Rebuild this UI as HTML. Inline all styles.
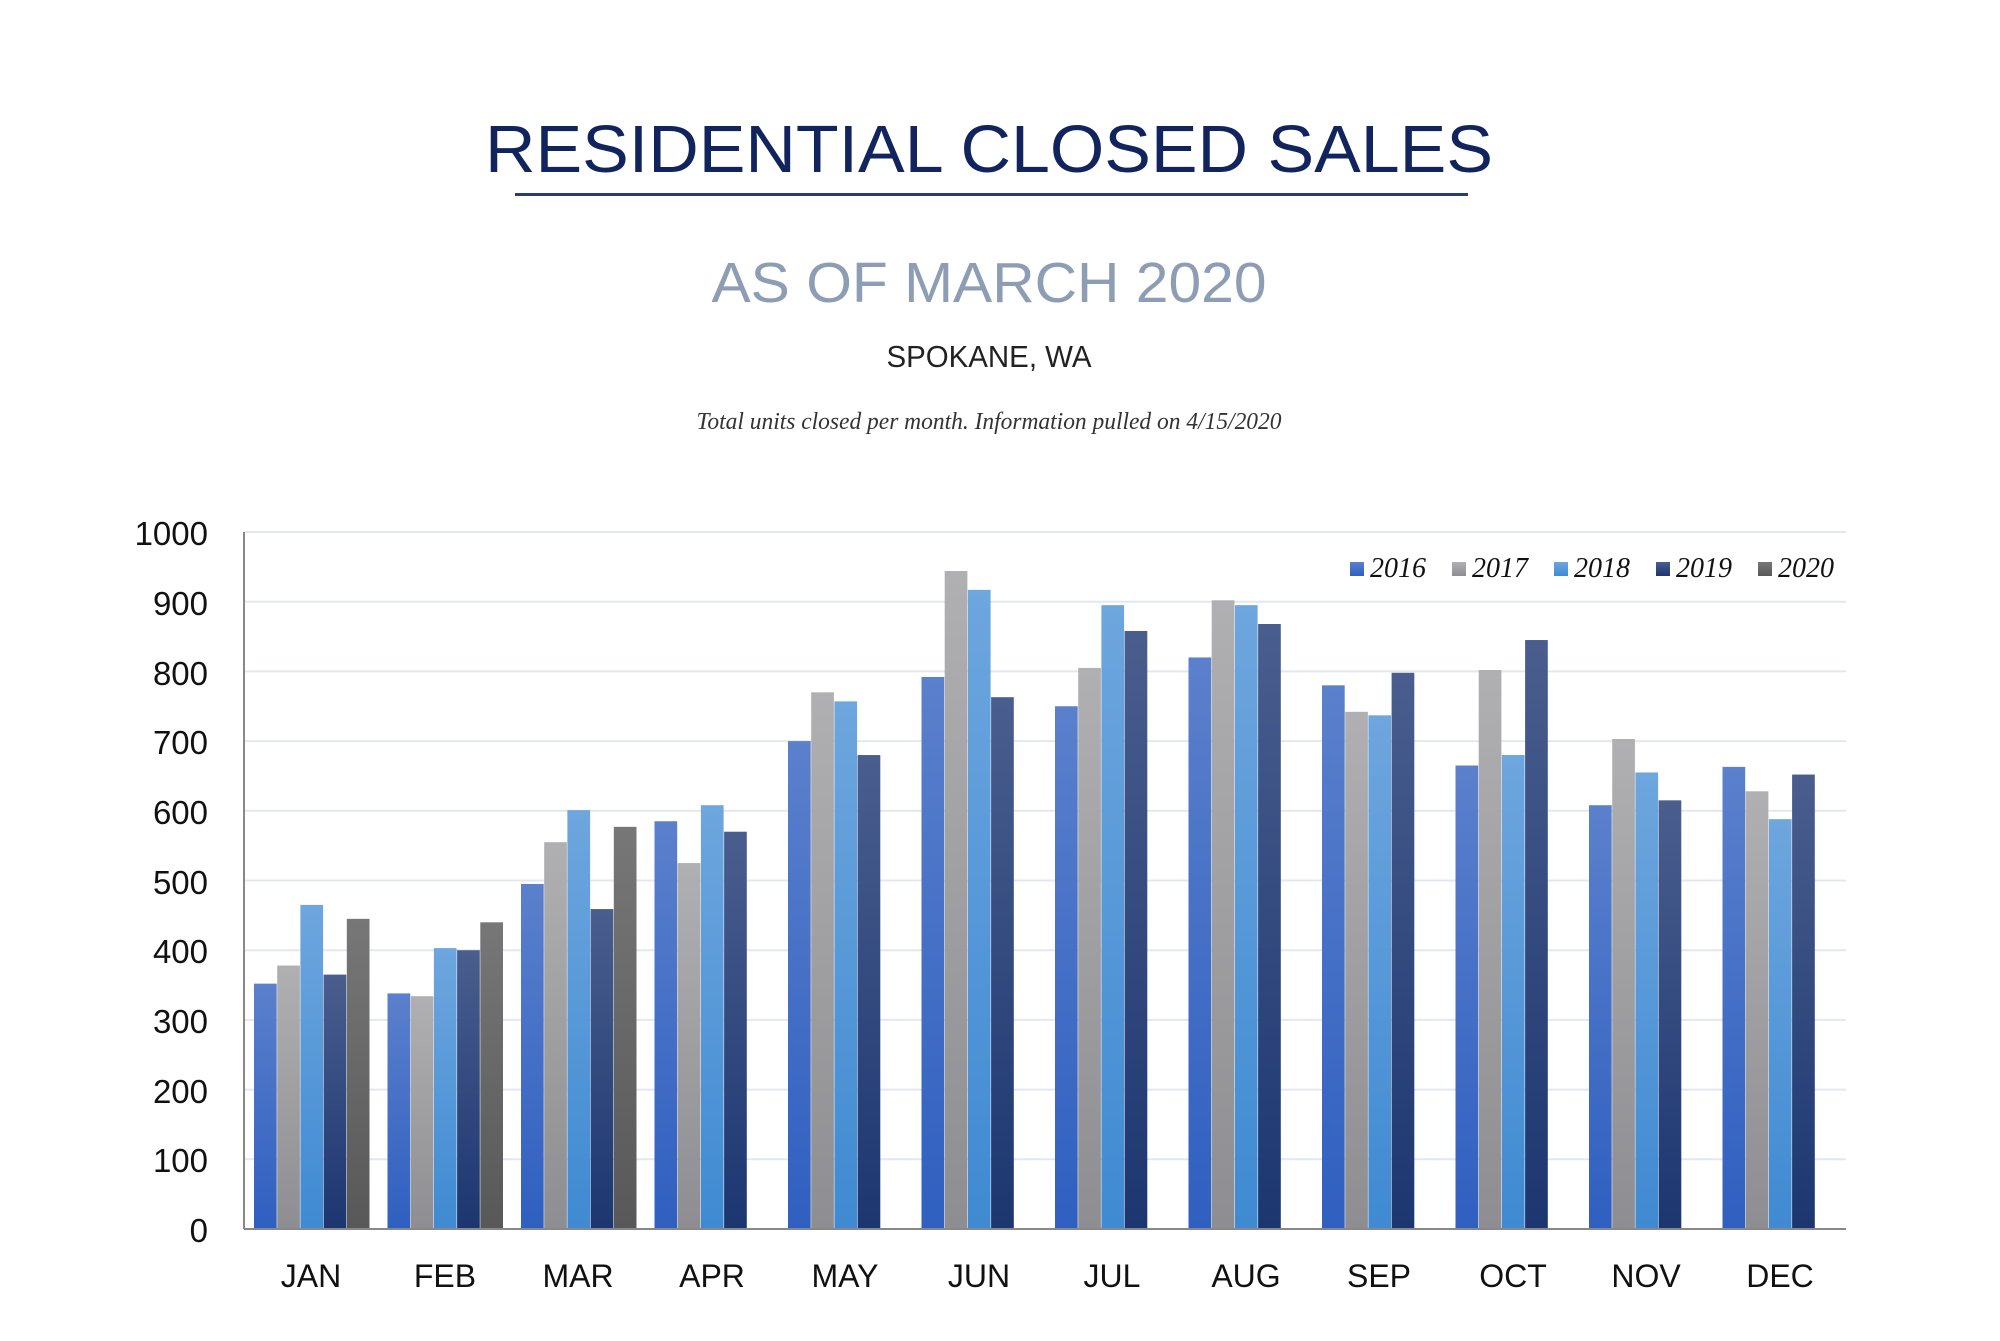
<!DOCTYPE html>
<html><head><meta charset="utf-8"><style>
html,body{margin:0;padding:0;background:#fff;}
svg{display:block;}
</style></head><body>
<svg id="s" width="2000" height="1341" viewBox="0 0 2000 1341" xmlns="http://www.w3.org/2000/svg">
<defs>
<linearGradient id="g0" x1="0" y1="0" x2="0" y2="1"><stop offset="0" stop-color="#5b80cc"/><stop offset="1" stop-color="#2f5fc0"/></linearGradient>
<linearGradient id="g1" x1="0" y1="0" x2="0" y2="1"><stop offset="0" stop-color="#b0b0b2"/><stop offset="1" stop-color="#8e8e92"/></linearGradient>
<linearGradient id="g2" x1="0" y1="0" x2="0" y2="1"><stop offset="0" stop-color="#6ea6de"/><stop offset="1" stop-color="#3f8ad2"/></linearGradient>
<linearGradient id="g3" x1="0" y1="0" x2="0" y2="1"><stop offset="0" stop-color="#4a5e8e"/><stop offset="1" stop-color="#1c3670"/></linearGradient>
<linearGradient id="g4" x1="0" y1="0" x2="0" y2="1"><stop offset="0" stop-color="#777"/><stop offset="1" stop-color="#585858"/></linearGradient>
</defs>
<rect width="2000" height="1341" fill="#fff"/>
<text x="989" y="172" text-anchor="middle" font-family="Liberation Sans, sans-serif" font-size="67" fill="#12245e" textLength="1008" lengthAdjust="spacingAndGlyphs">RESIDENTIAL CLOSED SALES</text>
<rect x="515" y="193" width="953" height="3" fill="#2a3d70"/>
<text x="989" y="302" text-anchor="middle" font-family="Liberation Sans, sans-serif" font-size="57" fill="#8d9db4" textLength="555" lengthAdjust="spacingAndGlyphs">AS OF MARCH 2020</text>
<text x="989" y="367" text-anchor="middle" font-family="Liberation Sans, sans-serif" font-size="31" fill="#222" textLength="205" lengthAdjust="spacingAndGlyphs">SPOKANE, WA</text>
<text x="989" y="429" text-anchor="middle" font-family="Liberation Serif, serif" font-style="italic" font-size="24" fill="#333" textLength="585" lengthAdjust="spacingAndGlyphs">Total units closed per month.  Information pulled on 4/15/2020</text>
<g id="grid" stroke="#e3e8f0" stroke-width="2"></g>
<g id="bars"></g>
<line x1="244" y1="532" x2="244" y2="1229" stroke="#888" stroke-width="2"/>
<line x1="244" y1="1229" x2="1846" y2="1229" stroke="#888" stroke-width="2"/>
<g font-family="Liberation Sans, sans-serif" font-size="33" fill="#111" text-anchor="end">
<text x="208" y="545">1000</text><text x="208" y="615">900</text><text x="208" y="685">800</text><text x="208" y="754">700</text><text x="208" y="824">600</text><text x="208" y="894">500</text><text x="208" y="963">400</text><text x="208" y="1033">300</text><text x="208" y="1103">200</text><text x="208" y="1172">100</text><text x="208" y="1242">0</text>
</g>
<g id="months" font-family="Liberation Sans, sans-serif" font-size="32" fill="#111" text-anchor="middle">
<text x="311" y="1287">JAN</text><text x="445" y="1287">FEB</text><text x="578" y="1287">MAR</text><text x="712" y="1287">APR</text><text x="845" y="1287">MAY</text><text x="979" y="1287">JUN</text><text x="1112" y="1287">JUL</text><text x="1246" y="1287">AUG</text><text x="1379" y="1287">SEP</text><text x="1513" y="1287">OCT</text><text x="1646" y="1287">NOV</text><text x="1780" y="1287">DEC</text>
</g>
<g font-family="Liberation Serif, serif" font-style="italic" font-size="28" fill="#111">
<rect x="1350" y="562" width="14" height="14" fill="url(#g0)"/><text x="1370" y="577">2016</text>
<rect x="1452" y="562" width="14" height="14" fill="url(#g1)"/><text x="1472" y="577">2017</text>
<rect x="1554" y="562" width="14" height="14" fill="url(#g2)"/><text x="1574" y="577">2018</text>
<rect x="1656" y="562" width="14" height="14" fill="url(#g3)"/><text x="1676" y="577">2019</text>
<rect x="1758" y="562" width="14" height="14" fill="url(#g4)"/><text x="1778" y="577">2020</text>
</g>
</svg>
<script>
var d=[[352,378,465,365,445],[338,334,403,400,440],[495,555,601,459,577],[585,525,608,570],[700,770,757,680],[792,944,917,763],[750,805,895,858],[820,902,895,868],[780,742,737,798],[665,802,680,845],[608,703,655,615],[663,628,588,652]];
var ns="http://www.w3.org/2000/svg",g=document.getElementById('bars'),gr=document.getElementById('grid');
var L=244,R=1846;
for(var i=0;i<=9;i++){var l=document.createElementNS(ns,'line');var y=532+i*69.7;l.setAttribute('x1',L);l.setAttribute('x2',R);l.setAttribute('y1',y);l.setAttribute('y2',y);gr.appendChild(l);}
var pitch=(R-L)/12;
d.forEach(function(v,m){v.forEach(function(val,k){var r=document.createElementNS(ns,'rect');var h=val*0.697;var x=L+m*pitch+10+k*23.2;r.setAttribute('x',x);r.setAttribute('y',1229-h);r.setAttribute('width',22.7);r.setAttribute('height',h);r.setAttribute('fill','url(#g'+k+')');g.appendChild(r);});});
</script>
</body></html>
